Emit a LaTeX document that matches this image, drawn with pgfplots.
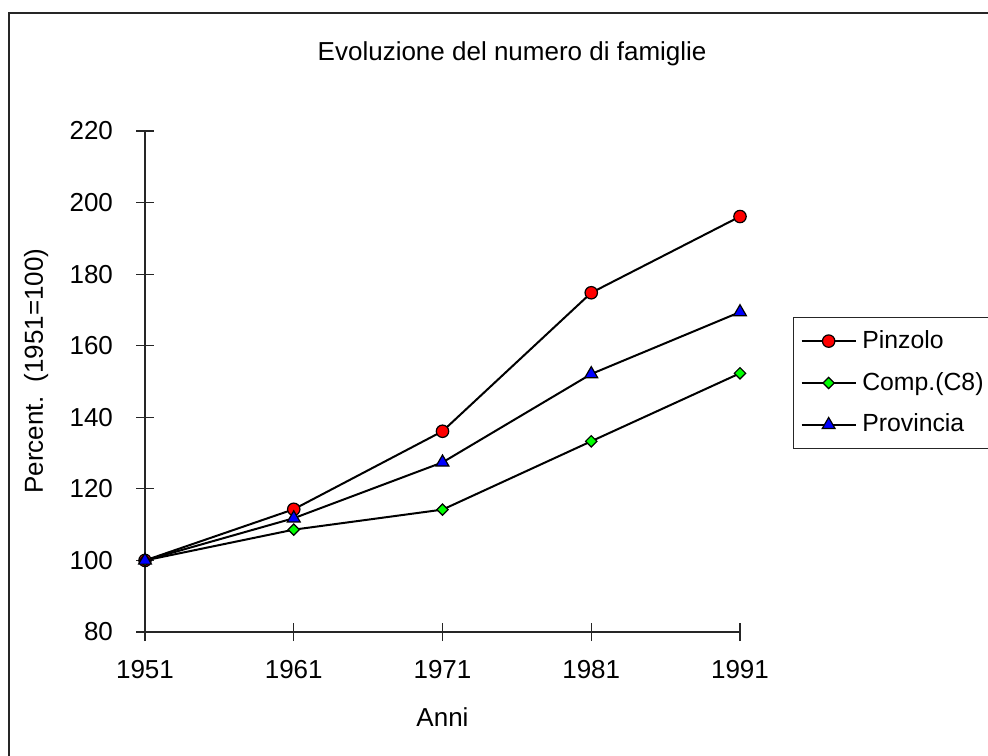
\documentclass[border=0pt]{standalone}
\usepackage{fontspec}
\setmainfont{Liberation Sans}
\usepackage{pgfplots}
\pgfplotsset{compat=1.18}
\begin{document}
\fontsize{13}{15.5}\selectfont
\begin{tikzpicture}
\useasboundingbox (0,0) rectangle (494pt,-377.5pt);
\draw[line width=1pt, black!85] (4.5pt,-400pt) -- (4.5pt,-6.5pt) -- (520pt,-6.5pt);
\begin{axis}[
  at={(72.5pt,-316pt)}, anchor=south west,
  scale only axis, width=297.5pt, height=250.5pt,
  xmin=1951, xmax=1991, ymin=80, ymax=220,
  axis x line=bottom, axis y line=left,
  axis line style={-, line width=0.7pt, black!85},
  xtick={1951,1961,1971,1981,1991}, ytick={80,100,...,220},
  tick align=center, major tick length=9pt,
  tick style={black!85, line width=0.6pt},
  xticklabel style={/pgf/number format/1000 sep={}, yshift=-5pt},
  yticklabel style={xshift=-7pt},
  /pgf/number format/assume math mode=true,
  clip=false,
  title={Evoluzione del numero di famiglie},
  title style={at={(axis description cs:0.617,1.130)}, anchor=center},
  xlabel={Anni},
  xlabel style={at={(axis description cs:0.5,-0.170)}, anchor=center},
  ylabel={Percent.\ \ (1951=100)},
  ylabel style={at={(axis description cs:-0.183,0.521)}, anchor=center},
  legend style={at={(axis description cs:1.089,0.629)}, anchor=north west,
    draw=black!85, line width=0.7pt, inner xsep=3.5pt, inner ysep=4.3pt,
    row sep=6pt, cells={anchor=west}, font=\fontsize{12.4}{15}\selectfont},
  legend image code/.code={
    \draw[mark repeat=2,mark phase=2,#1] plot coordinates {(0pt,0pt) (13.5pt,0pt) (27pt,0pt)};
  },
]
\addplot[black, line width=1pt, mark=*, mark size=3.1pt, mark options={fill=red, draw=black, line width=0.6pt}]
  table {
x y
1951 100
1961 114.3
1971 136.1
1981 174.8
1991 196.1
};
\addlegendentry{\hspace{0.8pt}\makebox[70pt][l]{Pinzolo}}
\addplot[black, line width=1pt, mark=square*, mark size=2pt, mark options={rotate=45, fill=green, draw=black, line width=0.6pt}]
  table {
x y
1951 100
1961 108.6
1971 114.2
1981 133.3
1991 152.3
};
\addlegendentry{\hspace{0.8pt}\makebox[70pt][l]{Comp.(C8)}}
\addplot[black, line width=1pt, mark=triangle*, mark size=3.7pt, mark options={fill=blue, draw=black, line width=0.6pt}]
  table {
x y
1951 100
1961 111.8
1971 127.4
1981 152.1
1991 169.4
};
\addlegendentry{\hspace{0.8pt}\makebox[70pt][l]{Provincia}}
\end{axis}
\end{tikzpicture}
\end{document}
